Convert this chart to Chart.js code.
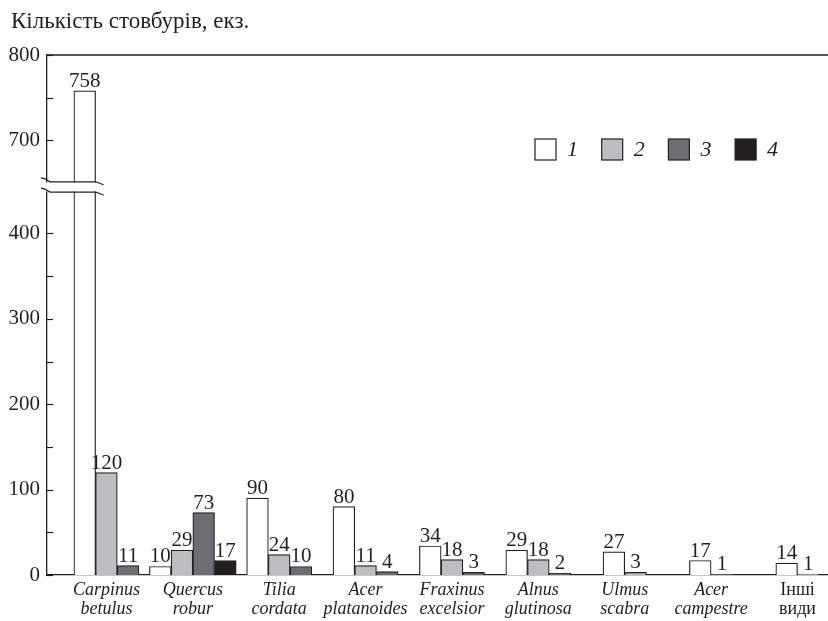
<!DOCTYPE html>
<html>
<head>
<meta charset="utf-8">
<script src="https://cdn.jsdelivr.net/npm/chart.js@4.4.0/dist/chart.umd.min.js"></script>
<style>
  html, body { margin: 0; padding: 0; background: #fff; }
  #wrap { width: 828px; height: 621px; position: relative; }
</style>
</head>
<body>
<div id="wrap"><canvas id="myChart" width="828" height="621"></canvas></div>
<script>
// дані з рисунку
var categories = ['Carpinus betulus', 'Quercus robur', 'Tilia cordata', 'Acer platanoides',
  'Fraxinus excelsior', 'Alnus glutinosa', 'Ulmus scabra', 'Acer campestre', 'Інші види'];
var seriesNames = ['1', '2', '3', '4'];
var s1 = [758, 10, 90, 80, 34, 29, 27, 17, 14];
var s2 = [120, 29, 24, 11, 18, 18, 3, null, 1];
var s3 = [11, 73, 10, 4, 3, 2, null, 1, null];
var s4 = [null, 17, null, null, null, null, null, null, null];
var yTicks = [0, 100, 200, 300, 400, 700, 800];
var yMinor = [50, 150, 250, 350, 750];

var colors = ['#ffffff', '#bcbec0', '#6d6e71', '#231f20'];
var ink = '#231f20';

// розрив осі: все що вище 455 зсуваємо вниз на 191
var SHIFT = 191;
function toPlot(v) { return v > 455 ? v - SHIFT : v; }
function fromPlot(p) { return p > 455 ? p + SHIFT : p; }

Chart.defaults.font.family = '"Liberation Serif", "DejaVu Serif", serif';
Chart.defaults.color = ink;

var allSeries = [s1, s2, s3, s4];
var datasets = allSeries.map(function (arr, k) {
  return {
    label: seriesNames[k],
    raw: arr,
    data: arr.map(function (v, i) { return {x: i, y: v === null ? null : toPlot(v)}; }),
    backgroundColor: colors[k],
    borderColor: ink,
    borderWidth: 1.2,
    borderSkipped: 'bottom',
    barThickness: 21.7,
    skipNull: true
  };
});

var AX_LEFT = 47;

var extras = {
  id: 'extras',
  afterDatasetsDraw: function (chart) {
    var ctx = chart.ctx;
    var area = chart.chartArea;
    var y = chart.scales.y;
    ctx.save();

    // підписи значень
    ctx.font = '21px "Liberation Serif"';
    ctx.fillStyle = ink;
    ctx.textAlign = 'center';
    ctx.textBaseline = 'bottom';
    chart.data.datasets.forEach(function (ds, k) {
      var meta = chart.getDatasetMeta(k);
      meta.data.forEach(function (bar, i) {
        var v = ds.raw[i];
        if (v === null) return;
        ctx.fillText(String(v), bar.x, bar.y + 1);
      });
    });

    // розрив
    var y1 = y.getPixelForValue(460.5);
    var y2 = y.getPixelForValue(448.5);
    var bar0 = chart.getDatasetMeta(0).data[0];
    var br = bar0.x + bar0.width / 2;
    ctx.fillStyle = '#fff';
    ctx.fillRect(AX_LEFT - 3, y1 + 0.7, br - AX_LEFT + 5, y2 - y1 - 1.4);
    ctx.strokeStyle = ink;
    ctx.lineWidth = 1.2;
    [y1, y2].forEach(function (yy) {
      ctx.beginPath();
      ctx.moveTo(AX_LEFT - 6, yy - 4);
      ctx.lineTo(AX_LEFT - 2, yy - 3);
      ctx.lineTo(AX_LEFT + 3, yy);
      ctx.lineTo(br, yy);
      ctx.lineTo(br + 8, yy + 3);
      ctx.stroke();
    });

    // верхня рамка
    ctx.lineWidth = 1.3;
    ctx.beginPath();
    ctx.moveTo(area.left, area.top);
    ctx.lineTo(area.right, area.top);
    ctx.stroke();

    // штрихи всередину
    ctx.lineWidth = 1.2;
    yTicks.concat(yMinor).forEach(function (v) {
      var py = Math.round(y.getPixelForValue(toPlot(v))) + 0.5;
      ctx.beginPath();
      ctx.moveTo(area.left, py);
      ctx.lineTo(area.left + 6, py);
      ctx.stroke();
    });

    // заголовок осі
    ctx.font = '23px "Liberation Serif"';
    ctx.textAlign = 'left';
    ctx.textBaseline = 'alphabetic';
    ctx.fillStyle = ink;
    ctx.fillText('Кількість стовбурів, екз.', 11, 28);

    // легенда
    var lx = 535, step = 66.7, ly = 139, sz = 21;
    ctx.font = 'italic 22px "Liberation Serif"';
    ctx.textBaseline = 'middle';
    chart.data.datasets.forEach(function (ds, k) {
      var x0 = lx + step * k;
      ctx.fillStyle = ds.backgroundColor;
      ctx.fillRect(x0, ly, sz, sz);
      ctx.strokeStyle = ink;
      ctx.lineWidth = 1.2;
      ctx.strokeRect(x0, ly, sz, sz);
      ctx.fillStyle = ink;
      ctx.fillText(ds.label, x0 + sz + 11, ly + sz / 2 + 1);
    });
    ctx.restore();
  }
};

var config = {
  type: 'bar',
  data: { datasets: datasets },
  options: {
    responsive: false,
    animation: false,
    layout: { padding: { top: 55, left: 0, right: 0, bottom: 0 } },
    plugins: { legend: { display: false }, tooltip: { enabled: false } },
    scales: {
      x: {
        type: 'linear',
        offset: false,
        min: -0.688,
        max: 8.353,
        grid: { display: false, drawTicks: false, offset: false },
        border: { display: true, color: ink, width: 1.3 },
        afterBuildTicks: function (scale) {
          scale.ticks = categories.map(function (c, i) { return {value: i}; });
        },
        afterFit: function (scale) { scale.height = 46; },
        ticks: {
          padding: 6,
          autoSkip: false,
          maxRotation: 0,
          color: ink,
          font: function (c) {
            var lab = categories[c.tick ? c.tick.value : 0] || '';
            return { size: 18, style: lab.indexOf('Інші') === 0 ? 'normal' : 'italic', lineHeight: 1.05 };
          },
          callback: function (value) {
            var c = categories[value];
            return c ? c.split(' ') : '';
          }
        }
      },
      y: {
        min: 0,
        max: toPlot(800),
        grid: { display: false, drawTicks: false },
        border: { display: true, color: ink, width: 1.3 },
        afterBuildTicks: function (scale) {
          scale.ticks = yTicks.map(function (v) { return {value: toPlot(v)}; });
        },
        afterFit: function (scale) { scale.width = AX_LEFT; },
        ticks: {
          padding: 7,
          color: ink,
          font: { size: 21 },
          callback: function (value) { return String(Math.round(fromPlot(value))); }
        }
      }
    }
  },
  plugins: [extras]
};

var myChart = new Chart(document.getElementById('myChart'), config);
</script>
</body>
</html>
